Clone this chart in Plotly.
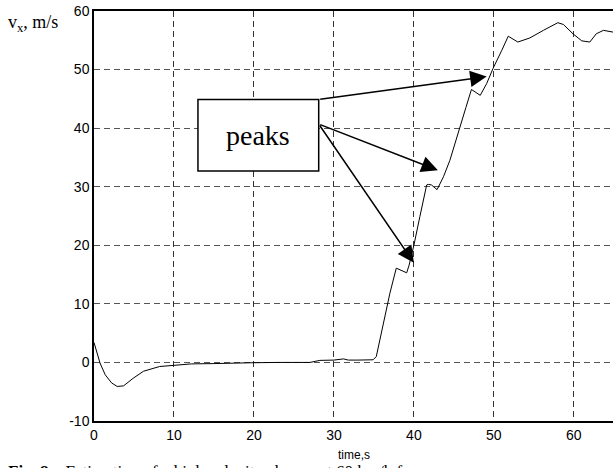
import plotly.graph_objects as go

# ---- data ----
time_s = [0, 0.75, 1.4, 2.2, 2.9, 3.7, 4.9, 6.2, 8.2, 9.9, 12.2, 14.9, 17.0, 19.9,
          23.0, 27.0, 28.25, 30.0, 31.2, 31.8, 33.0, 34.9, 35.3, 36.2, 37.0, 37.8,
          38.25, 39.1, 39.4, 40.0, 40.75, 41.6, 41.8, 42.2, 42.9, 43.7, 44.5, 45.75,
          46.5, 47.2, 48.3, 49.1, 49.9, 51.0, 51.8, 53.0, 54.5, 56.2, 58.0, 58.7,
          59.9, 61.0, 62.0, 62.8, 63.7, 64.9]
vx = [3.4, -0.1, -2.1, -3.5, -4.1, -4.0, -2.7, -1.5, -0.7, -0.5, -0.25, -0.2, -0.1, -0.05,
      0.0, 0.0, 0.35, 0.4, 0.6, 0.4, 0.4, 0.45, 1.0, 6.7, 11.8, 16.1,
      15.8, 15.3, 16.6, 20.0, 24.9, 30.3, 30.4, 30.3, 29.5, 31.7, 34.5, 39.9,
      43.5, 46.6, 45.6, 47.6, 50.2, 53.3, 55.7, 54.7, 55.4, 56.7, 58.0, 57.7,
      56.1, 54.9, 54.7, 56.1, 56.7, 56.4]

x_ticks = [0, 10, 20, 30, 40, 50, 60]
x_labels = ["0", "10", "20", "30", "40", "50", "60"]
y_ticks = [-10, 0, 10, 20, 30, 40, 50, 60]
y_labels = ["-10", "0", "10", "20", "30", "40", "50", "60"]

# annotation geometry (data coordinates)
box = dict(x0=13.0, x1=28.1, y0=32.7, y1=44.9)
arrow_tails = [(28.1, 44.9), (28.1, 40.7), (28.1, 40.7)]
arrow_tips = [(49.1, 48.8), (43.0, 32.8), (40.0, 17.0)]

SANS = "Arial, Liberation Sans, sans-serif"
SERIF = "Times New Roman, Liberation Serif, serif"

fig = go.Figure()
fig.add_trace(go.Scatter(x=time_s, y=vx, mode="lines",
                         line=dict(color="black", width=1), showlegend=False))

fig.add_shape(type="rect", xref="x", yref="y", **box,
              line=dict(color="black", width=1.5), fillcolor="white", layer="above")

annotations = [
    dict(x=(box["x0"] + box["x1"]) / 2, y=(box["y0"] + box["y1"]) / 2, xref="x", yref="y",
         text="peaks", showarrow=False, font=dict(family=SERIF, size=28, color="black")),
    dict(x=0.0, y=1.0, xref="paper", yref="paper", xanchor="left", yanchor="middle",
         xshift=-88, yshift=-12,
         text="v<sub>x</sub>, m/s", showarrow=False,
         font=dict(family=SERIF, size=18, color="black")),
    dict(x=0.5, y=0, xref="paper", yref="paper", yanchor="top", yshift=-25,
         text="time,s", showarrow=False, font=dict(family=SANS, size=12, color="black")),
    dict(x=0, y=0, xref="paper", yref="paper", xanchor="left", yanchor="top",
         xshift=-88, yshift=-39,
         text="<b>Fig. 8.</b>   Estimation of a high velocity change at 60 km/h for",
         showarrow=False, font=dict(family=SERIF, size=17, color="black")),
]
for (tx, ty), (hx, hy) in zip(arrow_tails, arrow_tips):
    annotations.append(dict(x=hx, y=hy, ax=tx, ay=ty, xref="x", yref="y",
                            axref="x", ayref="y", text="", showarrow=True,
                            arrowhead=2, arrowsize=2.2, arrowwidth=1.5,
                            arrowcolor="black", standoff=0, startstandoff=0))

fig.update_layout(
    width=613, height=468,
    margin=dict(l=94, r=0, t=11, b=47),
    paper_bgcolor="white", plot_bgcolor="white",
    annotations=annotations,
    xaxis=dict(range=[0, 64.9], tickvals=x_ticks, ticktext=x_labels, showline=True,
               linecolor="black", linewidth=1.5, mirror=True, showgrid=True,
               gridcolor="#333333", griddash="6px,4px", gridwidth=1, zeroline=False,
               ticks="", tickfont=dict(family=SANS, size=14, color="black")),
    yaxis=dict(range=[-10, 60], tickvals=y_ticks, ticktext=y_labels, showline=True,
               linecolor="black", linewidth=1.5, showgrid=True, gridcolor="#555555",
               griddash="6px,4px", gridwidth=1, zeroline=False, ticks="",
               tickfont=dict(family=SANS, size=14, color="black")),
)

fig.write_html("out.html")
